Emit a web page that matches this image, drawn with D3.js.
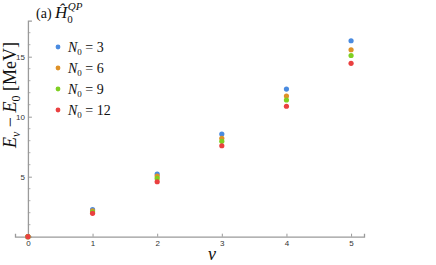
<!DOCTYPE html>
<html>
<head>
<meta charset="utf-8">
<script src="https://cdn.jsdelivr.net/npm/d3@7"></script>
<style>
  body { margin: 0; background: #fff; }
  .tick text { font-family: "Liberation Sans", Arial, sans-serif; }
  .math { font-family: "Liberation Serif", "Times New Roman", serif; }
</style>
</head>
<body>
<div id="vis"></div>
<script>
// excitation energies per level nu, one array per N0 truncation
const levels = [0, 1, 2, 3, 4, 5];
const seriesNames = ["3", "6", "9", "12"];
const n3 = [0, 2.25, 5.22, 8.56, 12.3, 16.33];
const n6 = [0, 2.15, 5.05, 8.2, 11.72, 15.58];
const n9 = [0, 2.05, 4.86, 7.95, 11.39, 15.1];
const n12 = [0, 1.95, 4.58, 7.58, 10.87, 14.45];
const colors = ["#4a8be0", "#de9128", "#7fcf22", "#ea4040"];
const xTicks = [0, 1, 2, 3, 4, 5];
const yTicks = [5, 10, 15];

const series = [n3, n6, n9, n12];

const W = 436, H = 265;
const svg = d3.select("#vis").append("svg")
  .attr("width", W).attr("height", H);

const x = d3.scaleLinear().domain([-0.2, 5.2]).range([15, 364]);
const y = d3.scaleLinear().domain([0, 18]).range([236.7, 20.7]);
const axisColor = "#9a9a9a";

// x axis, ticks pointing up into the plot
const xAxis = svg.append("g")
  .attr("transform", `translate(0,${y(0)})`)
  .call(d3.axisBottom(x).tickValues(xTicks).tickFormat(d3.format("d"))
    .tickSize(-3).tickPadding(4));
xAxis.select(".domain").attr("stroke", axisColor).attr("stroke-width", 1.3);
xAxis.selectAll(".tick line").attr("stroke", axisColor);
xAxis.selectAll(".tick text").attr("font-size", 8).attr("fill", "#333");

// y axis, major + minor ticks on the right side of the line
const yAxis = svg.append("g")
  .attr("transform", `translate(${x(0)},0)`)
  .call(d3.axisLeft(y).tickValues(yTicks).tickFormat(d3.format("d"))
    .tickSize(-4).tickPadding(3));
yAxis.select(".domain").attr("stroke", axisColor).attr("stroke-width", 1.3);
yAxis.selectAll(".tick line").attr("stroke", axisColor);
yAxis.selectAll(".tick text").attr("font-size", 8).attr("fill", "#333");

const minor = d3.range(1, 18).filter(v => v % 5 !== 0);
svg.append("g").selectAll("line").data(minor).enter().append("line")
  .attr("x1", x(0)).attr("x2", x(0) + 2.5)
  .attr("y1", d => y(d)).attr("y2", d => y(d))
  .attr("stroke", axisColor).attr("stroke-width", 0.8);

// points
series.forEach((vals, i) => {
  svg.append("g").selectAll("circle")
    .data(levels.map((l, j) => ({ l: l, v: vals[j] })))
    .enter().append("circle")
    .attr("cx", d => x(d.l))
    .attr("cy", d => y(d.v))
    .attr("r", 2.6)
    .attr("fill", colors[i]);
});

// legend
const lg = svg.append("g").attr("transform", "translate(58,47)");
seriesNames.forEach((n, i) => {
  const row = lg.append("g").attr("transform", `translate(0,${i * 21})`);
  row.append("circle").attr("r", 2.4).attr("fill", colors[i]);
  const t = row.append("text").attr("class", "math")
    .attr("x", 10).attr("y", 4.5).attr("font-size", 14).attr("fill", "#111");
  t.append("tspan").attr("font-style", "italic").text("N");
  t.append("tspan").attr("font-size", 9).attr("dy", 3).text("0");
  t.append("tspan").attr("dy", -3).text(" = " + n);
});

// panel title
const title = svg.append("text").attr("class", "math")
  .attr("x", 36).attr("y", 18).attr("font-size", 14).attr("fill", "#111");
title.append("tspan").text("(a) ");
title.append("tspan").attr("font-style", "italic").attr("font-size", 17).text("Ĥ");
title.append("tspan").attr("font-size", 11).attr("dy", 5).text("0");
title.append("tspan").attr("font-style", "italic").attr("font-size", 11)
  .attr("dx", -5).attr("dy", -13).text("QP");

// y label
const yl = svg.append("text").attr("class", "math")
  .attr("transform", "translate(16,95) rotate(-90)")
  .attr("text-anchor", "middle").attr("font-size", 18).attr("fill", "#111");
yl.append("tspan").attr("font-style", "italic").text("E");
yl.append("tspan").attr("font-style", "italic").attr("font-size", 12).attr("dy", 4).text("ν");
yl.append("tspan").attr("dy", -4).text(" − ");
yl.append("tspan").attr("font-style", "italic").text("E");
yl.append("tspan").attr("font-size", 12).attr("dy", 4).text("0");
yl.append("tspan").attr("dy", -4).text(" [MeV]");

// x label
svg.append("text").attr("class", "math")
  .attr("x", 212).attr("y", 260).attr("text-anchor", "middle")
  .attr("font-size", 18).attr("font-style", "italic").attr("fill", "#111")
  .text("ν");
</script>
</body>
</html>
